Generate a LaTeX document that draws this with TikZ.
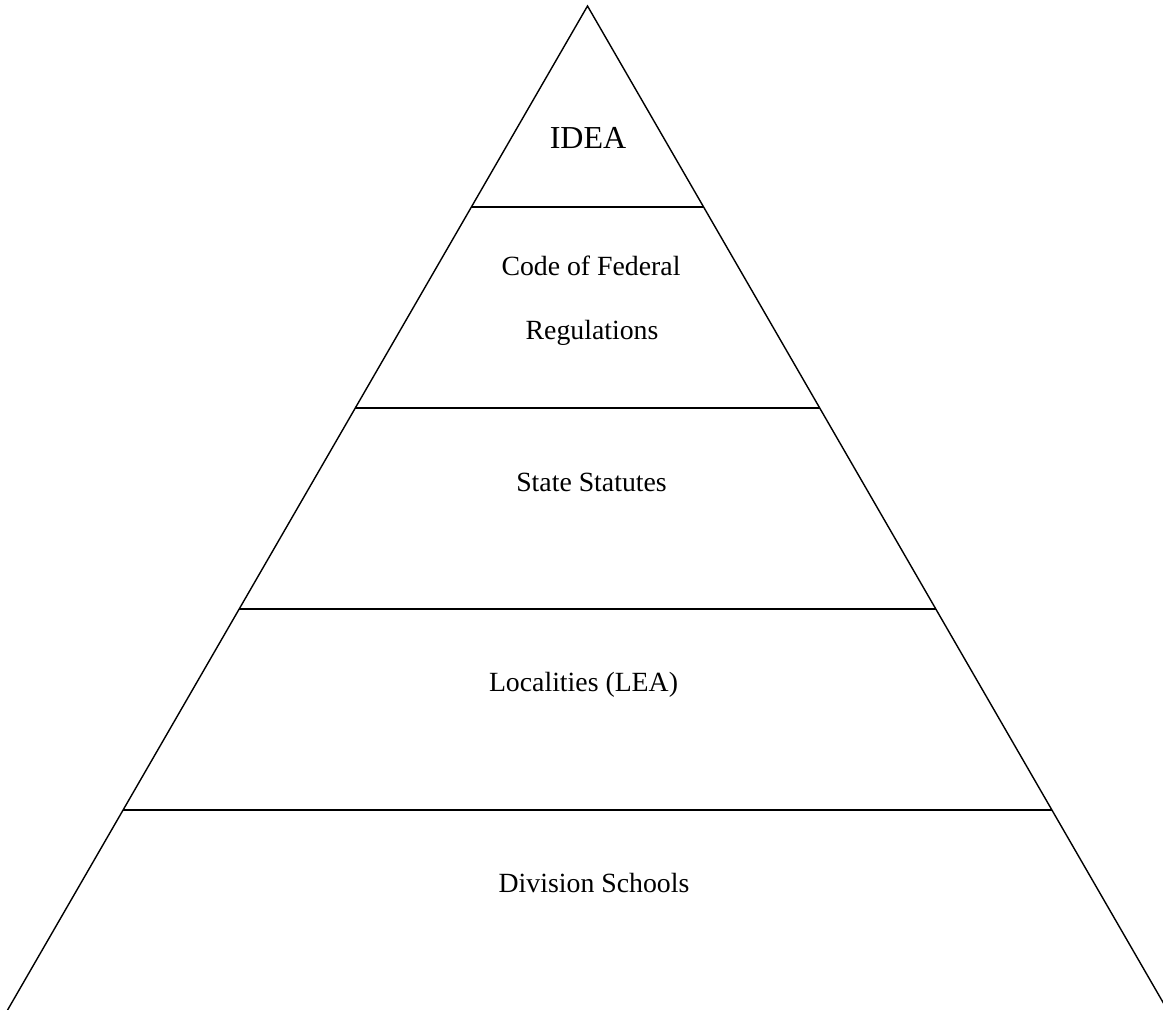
\documentclass[tikz,border=0pt]{standalone}
\usepackage{fontspec}
\setmainfont{Liberation Serif}
\usepackage{tikz}
\usetikzlibrary{calc}
\tikzstyle{side} = [line width=0.4pt]
\tikzstyle{tier} = [line width=0.65pt]
\tikzstyle{level} = [anchor=base,inner sep=0pt,font=\fontsize{7.9}{9}\selectfont]

\begin{document}
\begin{tikzpicture}[x=0.01cm,y=-0.01cm]

\useasboundingbox (0,0) rectangle (1163,1010);
\clip (0,0) rectangle (1163,1010);

% --- Pyramid ---
\coordinate (apex) at (587.5,6);
\coordinate (bl) at (7,1011);
\coordinate (br) at (1168,1011);

\draw[side] (bl) -- (apex) -- (br);

% tiers
\foreach \i in {1,...,4} {
  \draw[tier] ($(apex)!\i/5!(bl)$) -- ($(apex)!\i/5!(br)$);
}

% --- Labels ---
\node[level,font=\fontsize{9.1}{11}\selectfont] (idea) at (588,149) {IDEA};
\node[level] (cfr1) at (591,276) {Code of Federal};
\node[level] (cfr2) at (592,340) {Regulations};
\node[level] (state) at (591.5,492) {State Statutes};
\node[level] (lea) at (583.5,692) {Localities (LEA)};
\node[level] (div) at (594,893) {Division Schools};

\end{tikzpicture}
\end{document}
